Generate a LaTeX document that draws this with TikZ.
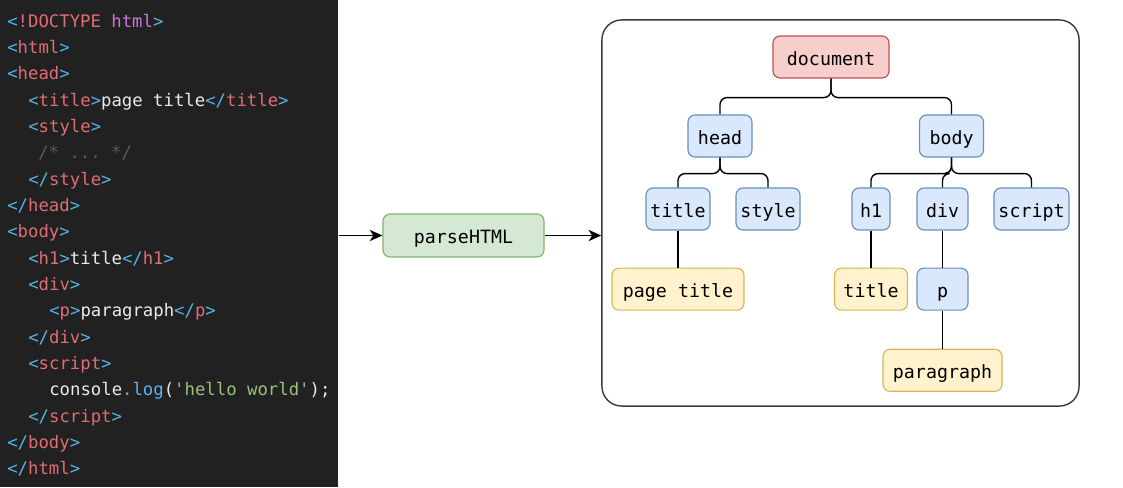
\documentclass[tikz,border=0pt]{standalone}
\usepackage{fontspec}
\setmonofont{DejaVu Sans Mono}
\usetikzlibrary{positioning,arrows.meta}

\definecolor{codebg}{HTML}{212121}
\definecolor{cbrk}{HTML}{56B3E6}
\definecolor{ctag}{HTML}{E06C75}
\definecolor{cpurp}{HTML}{C678DD}
\definecolor{ctext}{HTML}{E8EAED}
\definecolor{ccom}{HTML}{5A5A5A}
\definecolor{cfunc}{HTML}{61AFEF}
\definecolor{cstr}{HTML}{98C379}
\definecolor{docfill}{HTML}{F8CECC}
\definecolor{docdraw}{HTML}{B85450}
\definecolor{elfill}{HTML}{DAE8FC}
\definecolor{eldraw}{HTML}{6C8EBF}
\definecolor{txfill}{HTML}{FFF2CC}
\definecolor{txdraw}{HTML}{D6B656}
\definecolor{fnfill}{HTML}{D5E8D4}
\definecolor{fndraw}{HTML}{82B366}
\definecolor{frame}{HTML}{3A3A3A}

\newcommand\htmlopen[1]{\textcolor{cbrk}{<}\textcolor{ctag}{#1}\textcolor{cbrk}{>}}
\newcommand\htmlclose[1]{\textcolor{cbrk}{</}\textcolor{ctag}{#1}\textcolor{cbrk}{>}}
\newcommand\plain[1]{\textcolor{ctext}{#1}}

\tikzset{
	code/.style={anchor=base west,inner sep=0pt,font=\ttfamily\fontsize{12.3}{15}\selectfont,text=ctext},
	box/.style={draw,rounded corners=5pt,line width=0.8pt,minimum height=1.05cm,inner sep=2pt,text height=13pt,text depth=1.6pt,font=\ttfamily\fontsize{13}{15}\selectfont},
	root/.style={box,fill=docfill,draw=docdraw},
	elem/.style={box,fill=elfill,draw=eldraw},
	leaf/.style={box,fill=txfill,draw=txdraw},
	fn/.style={box,fill=fnfill,draw=fndraw},
	branch/.style={line width=1pt,rounded corners=5pt},
	flow/.style={line width=1pt,-{Stealth[length=9pt,width=8pt,inset=2.5pt]}}
}

\begin{document}
\begin{tikzpicture}[x=0.025cm,y=-0.025cm]
		\useasboundingbox (0,0) rectangle (1123,487);
		% source panel
		\node(code) [anchor=north west,fill=codebg,inner sep=0pt,minimum width=8.45cm,minimum height=12.175cm] at (0,0) {};
		\node(l1) [code] at (7,27) {\textcolor{cbrk}{<}\textcolor{ctag}{!DOCTYPE} \textcolor{cpurp}{html}\textcolor{cbrk}{>}};
		\node(l2) [code] at (7,53.35) {\htmlopen{html}};
		\node(l3) [code] at (7,79.7) {\htmlopen{head}};
		\node(l4) [code] at (28,106.05) {\htmlopen{title}\plain{page title}\htmlclose{title}};
		\node(l5) [code] at (28,132.4) {\htmlopen{style}};
		\node(l6) [code] at (38,158.75) {\textcolor{ccom}{/* ... */}};
		\node(l7) [code] at (28,185.1) {\htmlclose{style}};
		\node(l8) [code] at (7,211.45) {\htmlclose{head}};
		\node(l9) [code] at (7,237.8) {\htmlopen{body}};
		\node(l10) [code] at (28,264.15) {\htmlopen{h1}\plain{title}\htmlclose{h1}};
		\node(l11) [code] at (28,290.5) {\htmlopen{div}};
		\node(l12) [code] at (49,316.85) {\htmlopen{p}\plain{paragraph}\htmlclose{p}};
		\node(l13) [code] at (28,343.2) {\htmlclose{div}};
		\node(l14) [code] at (28,369.55) {\htmlopen{script}};
		\node(l15) [code] at (49,395.9) {\plain{console}\textcolor{cfunc}{.log}\plain{(}\textcolor{cstr}{'hello world'}\plain{);}};
		\node(l16) [code] at (28,422.25) {\htmlclose{script}};
		\node(l17) [code] at (7,448.6) {\htmlclose{body}};
		\node(l18) [code] at (7,474.95) {\htmlclose{html}};
		% parser
		\node(parse) [fn,minimum width=4.025cm,minimum height=1.075cm] at (463.5,235.5) {parseHTML};
		% dom tree
		\node(dom) [draw=frame,line width=1pt,rounded corners=14pt,minimum width=11.925cm,minimum height=9.65cm] at (840.5,213) {};
		\node(doc) [root,minimum width=2.9cm] at (831,57) {document};
		\node(head) [elem,minimum width=1.6cm] at (720,136) {head};
		\node(body) [elem,minimum width=1.6cm] at (951.5,136) {body};
		\node(ttl) [elem,minimum width=1.6cm] at (678,209) {title};
		\node(sty) [elem,minimum width=1.6cm] at (768,209) {style};
		\node(h1) [elem,minimum width=0.95cm] at (871,209) {h1};
		\node(div) [elem,minimum width=1.275cm] at (942.5,209) {div};
		\node(scr) [elem,minimum width=1.875cm] at (1031.5,209) {script};
		\node(pgttl) [leaf,below=0.925cm of ttl,minimum width=3.3cm] {page title};
		\node(h1txt) [leaf,below=0.925cm of h1,minimum width=1.825cm] {title};
		\node(p) [elem,below=0.925cm of div,minimum width=1.275cm] {p};
		\node(ptxt) [leaf,below=0.95cm of p,minimum width=2.975cm] {paragraph};
		\draw [branch] (doc.south) -- ++(0,19) -| (head.north);
		\draw [branch] (doc.south) -- ++(0,19) -| (body.north);
		\draw [branch] (head.south) -- ++(0,16) -| (ttl.north);
		\draw [branch] (head.south) -- ++(0,16) -| (sty.north);
		\draw [branch] (body.south) -- ++(0,16) -| (h1.north);
		\draw [branch] (body.south) -- ++(0,16) -| (div.north);
		\draw [branch] (body.south) -- ++(0,16) -| (scr.north);
		\draw [branch] (ttl) -- (pgttl);
		\draw [branch] (h1) -- (h1txt);
		\draw [branch] (div) -- (p);
		\draw [branch] (p) -- (ptxt);
		% flow
		\draw [flow] (code.east |- parse.west) -- (parse.west);
		\draw [flow] (parse.east) -- (parse.east -| dom.west);
	\end{tikzpicture}
\end{document}
